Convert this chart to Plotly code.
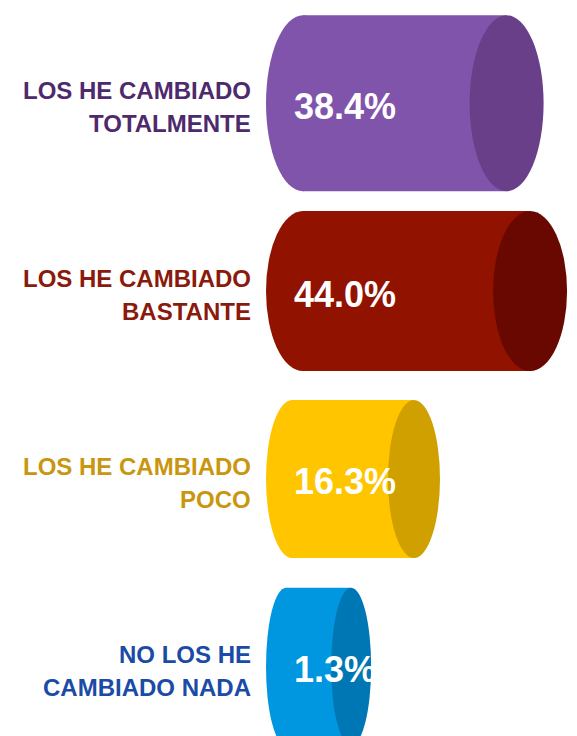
import plotly.graph_objects as go

# ---- data ----
categories = [
    "LOS HE CAMBIADO<br>TOTALMENTE",
    "LOS HE CAMBIADO<br>BASTANTE",
    "LOS HE CAMBIADO<br>POCO",
    "NO LOS HE<br>CAMBIADO NADA",
]
values = [38.4, 44.0, 16.3, 1.3]
value_labels = ["38.4%", "44.0%", "16.3%", "1.3%"]

# ---- styles ----
body_colors = ["#8154ab", "#921200", "#ffc600", "#0096e0"]
cap_colors = ["#6a3f8a", "#680800", "#cfa000", "#0077b5"]
label_colors = ["#4e2a6d", "#8a1a0c", "#c9960f", "#1a4ba6"]
cap_rx_px = [37, 37, 26, 20]      # horizontal radius of the end ellipses
half_h_px = [88, 80, 79, 79]      # half height of the cylinders

W, H = 577, 736
X0, K = 345.7, 4.19               # pixel = X0 + K * value
Y0, S = 103.3, 187.8              # pixel = Y0 + S * index
LEFT_EDGE_PX = 266
LABEL_RIGHT_PX = 253
VALUE_LEFT_PX = 292

def px_to_x(p):
    return (p - X0) / K

def dpx_x(d):
    return d / K

def dpx_y(d):
    return d / S

fig = go.Figure()
fig.add_trace(go.Scatter(x=values, y=list(range(len(values))), mode="markers",
                         marker=dict(opacity=0), hoverinfo="skip", showlegend=False))

shapes = []
annotations = []
font_family = "Liberation Sans, Arial, sans-serif"
for i, v in enumerate(values):
    rx = dpx_x(cap_rx_px[i])
    ry = dpx_y(half_h_px[i])
    xl = px_to_x(LEFT_EDGE_PX + cap_rx_px[i])
    xr = v
    shapes.append(dict(type="circle", xref="x", yref="y", x0=xl - rx, x1=xl + rx,
                       y0=i - ry, y1=i + ry, fillcolor=body_colors[i],
                       line=dict(width=0), layer="above"))
    shapes.append(dict(type="rect", xref="x", yref="y", x0=xl, x1=xr,
                       y0=i - ry, y1=i + ry, fillcolor=body_colors[i],
                       line=dict(width=0), layer="above"))
    shapes.append(dict(type="circle", xref="x", yref="y", x0=xr - rx, x1=xr + rx,
                       y0=i - ry, y1=i + ry, fillcolor=cap_colors[i],
                       line=dict(width=0), layer="above"))
    lines = categories[i].split("<br>")
    n = len(lines)
    for j, line in enumerate(lines):
        annotations.append(dict(
            x=px_to_x(LABEL_RIGHT_PX), y=i, xref="x", yref="y",
            text="<b>" + line + "</b>", showarrow=False, xanchor="right", yanchor="middle",
            yshift=-(j - (n - 1) / 2) * 33 - 4,
            font=dict(family=font_family, size=24, color=label_colors[i])))
    annotations.append(dict(
        x=px_to_x(VALUE_LEFT_PX), y=i, xref="x", yref="y",
        text="<b>" + value_labels[i] + "</b>", showarrow=False,
        xanchor="left", yanchor="middle", yshift=-3,
        font=dict(family=font_family, size=36, color="white")))

fig.update_layout(
    width=W, height=H,
    margin=dict(l=0, r=0, t=0, b=0),
    paper_bgcolor="white", plot_bgcolor="white",
    xaxis=dict(range=[px_to_x(0), px_to_x(W)], visible=False, fixedrange=True),
    yaxis=dict(range=[(H - Y0) / S, -Y0 / S], visible=False, fixedrange=True),
    shapes=shapes, annotations=annotations, showlegend=False,
)

fig.write_html("out.html", config={"displayModeBar": False},
               post_script="document.body.style.margin='0';document.body.style.overflow='hidden';")
